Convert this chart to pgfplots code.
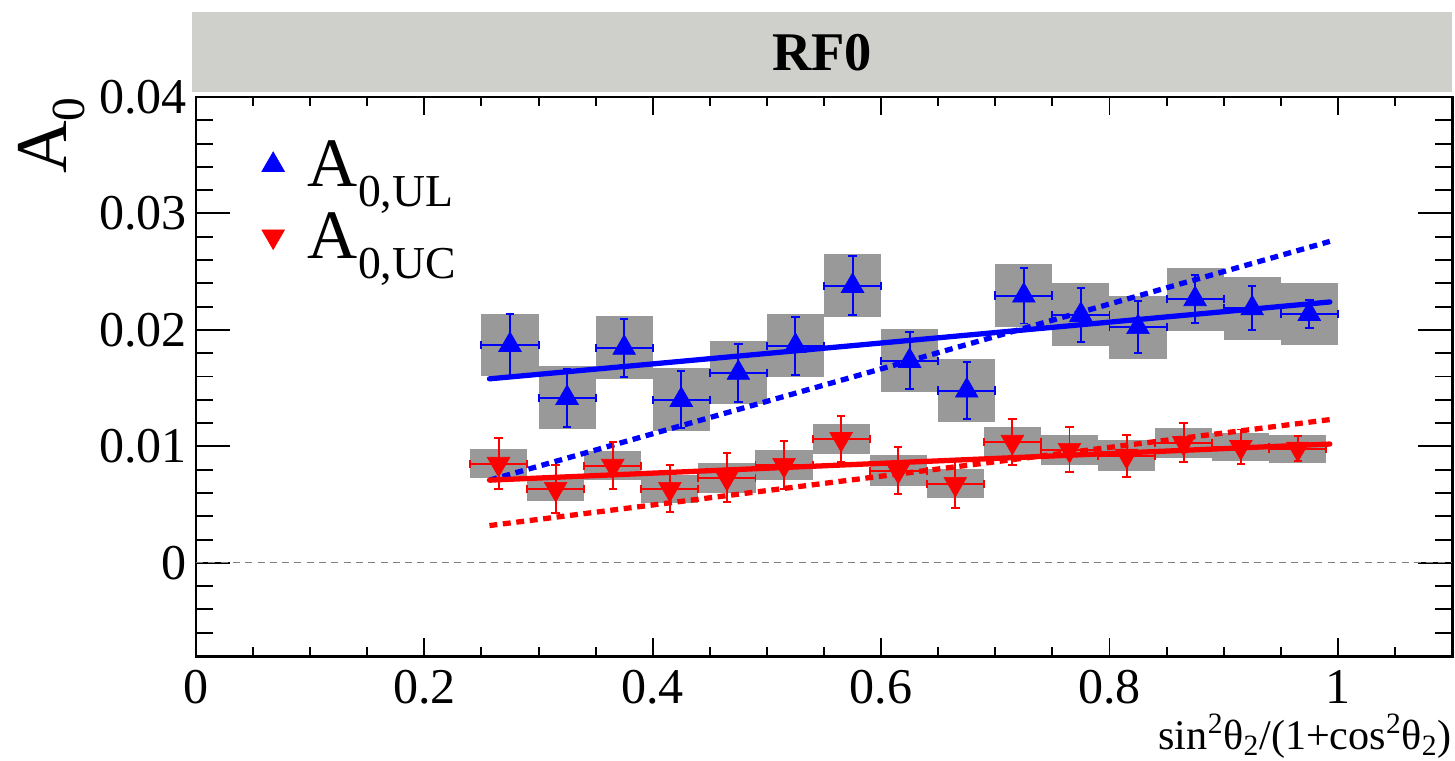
\documentclass[border=0pt]{standalone}
\usepackage{pgfplots}
\usepackage{pgfplotstable}
\pgfplotsset{compat=1.18}
\usepackage{fontspec}
\setmainfont{Liberation Serif}
\definecolor{boxgray}{RGB}{153,153,153}
\definecolor{bargray}{RGB}{207,207,203}

\pgfplotstableread{
x y ex ey sy
0.275 0.01871 0.025 0.00266 0.0027
0.325 0.01416 0.025 0.00250 0.0027
0.375 0.01846 0.025 0.00250 0.0027
0.425 0.01399 0.025 0.00245 0.0027
0.475 0.01631 0.025 0.00250 0.0027
0.525 0.01863 0.025 0.00250 0.0027
0.575 0.02378 0.025 0.00253 0.0027
0.625 0.01734 0.025 0.00245 0.0027
0.675 0.01479 0.025 0.00245 0.0027
0.725 0.02295 0.025 0.00240 0.0027
0.775 0.02129 0.025 0.00232 0.0027
0.825 0.02024 0.025 0.00223 0.0027
0.875 0.02264 0.025 0.00206 0.0027
0.925 0.02185 0.025 0.00189 0.0027
0.975 0.02137 0.025 0.00120 0.0027
}\ULdata

\pgfplotstableread{
x y ex ey sy
0.265 0.00850 0.025 0.00219 0.00125
0.315 0.00635 0.025 0.00206 0.00103
0.365 0.00833 0.025 0.00202 0.00125
0.415 0.00635 0.025 0.00202 0.00120
0.465 0.00730 0.025 0.00210 0.00129
0.515 0.00841 0.025 0.00206 0.00129
0.565 0.01064 0.025 0.00197 0.00129
0.615 0.00790 0.025 0.00202 0.00133
0.665 0.00678 0.025 0.00206 0.00124
0.715 0.01039 0.025 0.00197 0.00129
0.765 0.00970 0.025 0.00193 0.00129
0.815 0.00920 0.025 0.00180 0.00133
0.865 0.01030 0.025 0.00167 0.00129
0.915 0.00995 0.025 0.00150 0.00124
0.965 0.00980 0.025 0.00107 0.00120
}\UCdata

\begin{document}
\begin{tikzpicture}
\useasboundingbox (0,0) rectangle (29.1cm,15.2cm);
\fill[bargray] (3.84cm,13.36cm) rectangle (29.04cm,14.96cm);
\node[font=\fontsize{31}{31}\selectfont\bfseries, inner sep=0pt] at (16.44cm,14.14cm) {RF0};
\begin{axis}[
  at={(3.92cm,2.08cm)}, anchor=south west,
  scale only axis, width=25.12cm, height=11.18cm,
  xmin=0, xmax=1.1, ymin=-0.008, ymax=0.04,
  xtick={0,0.2,0.4,0.6,0.8,1},
  minor xtick={0.05,0.1,0.15,0.25,0.3,0.35,0.45,0.5,0.55,0.65,0.7,0.75,0.85,0.9,0.95,1.05},
  ytick={0,0.01,0.02,0.03,0.04},
  minor ytick={-0.006,-0.004,-0.002,0.002,0.004,0.006,0.008,0.012,0.014,0.016,0.018,0.022,0.024,0.026,0.028,0.032,0.034,0.036,0.038},
  scaled ticks=false,
  /pgf/number format/.cd, fixed, precision=2, assume math mode=true, /pgfplots/.cd,
  tick align=inside,
  axis line style={line width=1.7pt},
  every tick/.style={black, line width=1.1pt},
  x tick style={/pgfplots/major tick length=0.354cm, /pgfplots/minor tick length=0.18cm},
  y tick style={/pgfplots/major tick length=0.68cm, /pgfplots/minor tick length=0.34cm},
  tick label style={font=\fontsize{28.5}{30}\selectfont},
  xticklabel style={inner sep=0pt, anchor=north, yshift=-0.28cm},
  yticklabel style={inner sep=0pt, anchor=east, xshift=-0.18cm},
  xlabel={sin\textsuperscript{2}θ\textsubscript{2}/(1+cos\textsuperscript{2}θ\textsubscript{2})},
  xlabel style={at={(rel axis cs:1,0)}, anchor=base east, inner sep=0pt, yshift=-1.86cm, font=\fontsize{24}{24}\selectfont},
  ylabel={A\raisebox{-10pt}{\fontsize{27}{27}\selectfont 0}},
  ylabel style={at={(rel axis cs:-0.0884,1)}, rotate=0, anchor=south east, inner sep=0pt, font=\fontsize{41.5}{42}\selectfont},
  legend style={at={(rel axis cs:0.048,0.935)}, anchor=north west, draw=none, fill=none,
    font=\fontsize{39.5}{41}\selectfont, row sep=0.32cm, column sep=0.4cm},
  legend cell align=left,
]
% zero line
\addplot[forget plot, gray, line width=0.6pt, dash pattern=on 4pt off 3pt] coordinates {(0,0) (1.1,0)};
% systematic boxes
\addplot[forget plot, only marks, mark=none, error bars/.cd, y dir=both, y explicit,
  error mark=none, error bar style={line width=1.142cm, color=boxgray, line cap=butt}]
  table[x=x, y=y, y error=sy] {\ULdata};
\addplot[forget plot, only marks, mark=none, error bars/.cd, y dir=both, y explicit,
  error mark=none, error bar style={line width=1.142cm, color=boxgray, line cap=butt}]
  table[x=x, y=y, y error=sy] {\UCdata};
% fit lines
\addplot[forget plot, blue, line width=3pt, line cap=round] coordinates {(0.257,0.0158) (0.993,0.0224)};
\addplot[forget plot, blue, line width=3pt, dash pattern=on 4.5pt off 3.2pt] coordinates {(0.257,0.0071) (0.993,0.0276)};
\addplot[forget plot, red, line width=3pt, line cap=round] coordinates {(0.257,0.0071) (0.993,0.0102)};
\addplot[forget plot, red, line width=3pt, dash pattern=on 4.5pt off 3.2pt] coordinates {(0.257,0.0032) (0.993,0.0123)};
% data points
\addplot[blue, only marks, mark=triangle*, mark size=7.4pt,
  error bars/.cd, x dir=both, x explicit, y dir=both, y explicit,
  error bar style={line width=1.1pt, solid}, error mark=-,
  error mark options={rotate=90, mark size=2.4pt, line width=1.1pt, solid}]
  table[x=x, y=y, x error=ex, y error=ey] {\ULdata};
\addlegendentry{A\raisebox{-11.5pt}{\fontsize{26}{26}\selectfont 0,UL}}
\addplot[red, only marks, mark=triangle*, mark size=7.4pt, mark options={rotate=180},
  error bars/.cd, x dir=both, x explicit, y dir=both, y explicit,
  error bar style={line width=1.1pt, solid}, error mark=-,
  error mark options={rotate=90, mark size=2.4pt, line width=1.1pt, solid}]
  table[x=x, y=y, x error=ex, y error=ey] {\UCdata};
\addlegendentry{A\raisebox{-11.5pt}{\fontsize{26}{26}\selectfont 0,UC}}
\end{axis}
\end{tikzpicture}
\end{document}
